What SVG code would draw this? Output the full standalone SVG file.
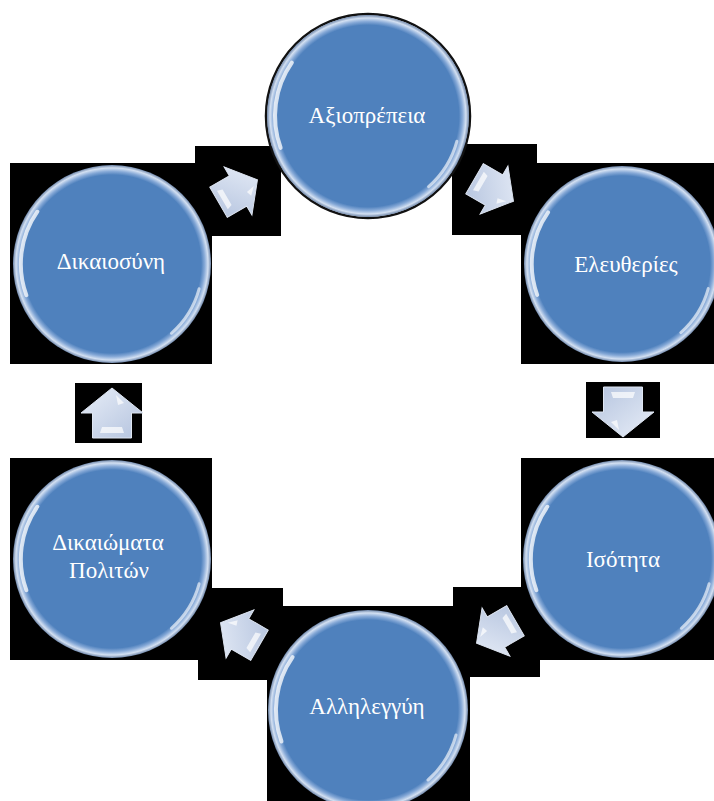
<svg xmlns="http://www.w3.org/2000/svg" xmlns:xlink="http://www.w3.org/1999/xlink" width="714" height="801" viewBox="0 0 714 801">
<style>
.bg{fill:#000}
.lbl{font-family:"Liberation Serif","DejaVu Serif",serif;font-size:23px;fill:#fff;text-anchor:middle}
.arr{fill:url(#arrGrad);stroke:#dfe6f2;stroke-width:1}
.shine{fill:#fff;opacity:0.7}
</style>
<defs>
<radialGradient id="rim" cx="0.5" cy="0.5" r="0.5">
<stop offset="0" stop-color="#4f81bd"/>
<stop offset="0.9" stop-color="#4f81bd"/>
<stop offset="0.935" stop-color="#86a9d7"/>
<stop offset="0.97" stop-color="#d3e0f2"/>
<stop offset="1" stop-color="#6f87aa"/>
</radialGradient>
<linearGradient id="arrGrad" x1="0" y1="0" x2="1" y2="1">
<stop offset="0" stop-color="#e8eef8"/>
<stop offset="1" stop-color="#b4c3de"/>
</linearGradient>
<g id="bubble">
<circle r="100" fill="url(#rim)"/>
<path d="M-86.5,31.5 A92,92 0 0 1 -75.4,-52.8" fill="none" stroke="#ffffff" stroke-width="4" stroke-linecap="round" opacity="0.75"/>
<path d="M88,25 A92,92 0 0 1 60,70" fill="none" stroke="#ffffff" stroke-width="3" stroke-linecap="round" opacity="0.6"/>
</g>
<g id="arrow">
<path class="arr" d="M0,-25 L31,0 L19.5,0 L19.5,25 L-19.5,25 L-19.5,0 L-31,0 Z"/>
<path class="shine" d="M4,-18 L12,-10 L6,-8 Z"/>
<path class="shine" d="M-10,14 L10,14 L12,20 L-12,20 Z" opacity="0.5"/>
</g>
</defs>
<rect width="714" height="801" fill="#fff"/>
<g id="backgrounds">
<rect class="bg" x="10" y="163" width="202" height="201"/>
<rect class="bg" x="521" y="163" width="193" height="201"/>
<rect class="bg" x="521" y="458" width="193" height="202"/>
<rect class="bg" x="10" y="458" width="202" height="202"/>
<rect class="bg" x="267" y="606" width="203" height="195"/>
</g>
<g id="connectors">
<rect class="bg" x="195" y="146" width="86" height="90"/>
<rect class="bg" x="452" y="144" width="85" height="91"/>
<rect class="bg" x="586" y="382" width="74" height="56"/>
<rect class="bg" x="453" y="587" width="87" height="90"/>
<rect class="bg" x="198" y="588" width="85" height="92"/>
<rect class="bg" x="75" y="383" width="67" height="60"/>
<use xlink:href="#arrow" href="#arrow" transform="translate(238,191) rotate(60) scale(0.9)"/>
<use xlink:href="#arrow" href="#arrow" transform="translate(494,190) rotate(120) scale(0.9)"/>
<use xlink:href="#arrow" href="#arrow" transform="translate(623,412) rotate(180)"/>
<use xlink:href="#arrow" href="#arrow" transform="translate(496,632) rotate(240) scale(0.9)"/>
<use xlink:href="#arrow" href="#arrow" transform="translate(240,634) rotate(300) scale(0.9)"/>
<use xlink:href="#arrow" href="#arrow" transform="translate(112,413)"/>
</g>
<g id="node-axioprepeia">
<circle cx="368" cy="116" r="102" fill="none" stroke="#111" stroke-width="2.5"/>
<use xlink:href="#bubble" href="#bubble" transform="translate(368,116) scale(1.01)"/>
<text class="lbl" x="367" y="123">Αξιοπρέπεια</text>
</g>
<g id="node-eleftheries">
<use xlink:href="#bubble" href="#bubble" transform="translate(622,264) scale(0.98)"/>
<text class="lbl" x="626" y="272">Ελευθερίες</text>
</g>
<g id="node-isotita">
<use xlink:href="#bubble" href="#bubble" transform="translate(622,559) scale(0.99)"/>
<text class="lbl" x="623" y="567">Ισότητα</text>
</g>
<g id="node-allileggyi">
<use xlink:href="#bubble" href="#bubble" transform="translate(368,710)"/>
<text class="lbl" x="367" y="714">Αλληλεγγύη</text>
</g>
<g id="node-dikaiomata">
<use xlink:href="#bubble" href="#bubble" transform="translate(112,559) scale(0.99)"/>
<text class="lbl" x="108" y="550">Δικαιώματα</text>
<text class="lbl" x="109" y="578">Πολιτών</text>
</g>
<g id="node-dikaiosyni">
<use xlink:href="#bubble" href="#bubble" transform="translate(112,264) scale(0.99)"/>
<text class="lbl" x="111" y="269">Δικαιοσύνη</text>
</g>
</svg>
